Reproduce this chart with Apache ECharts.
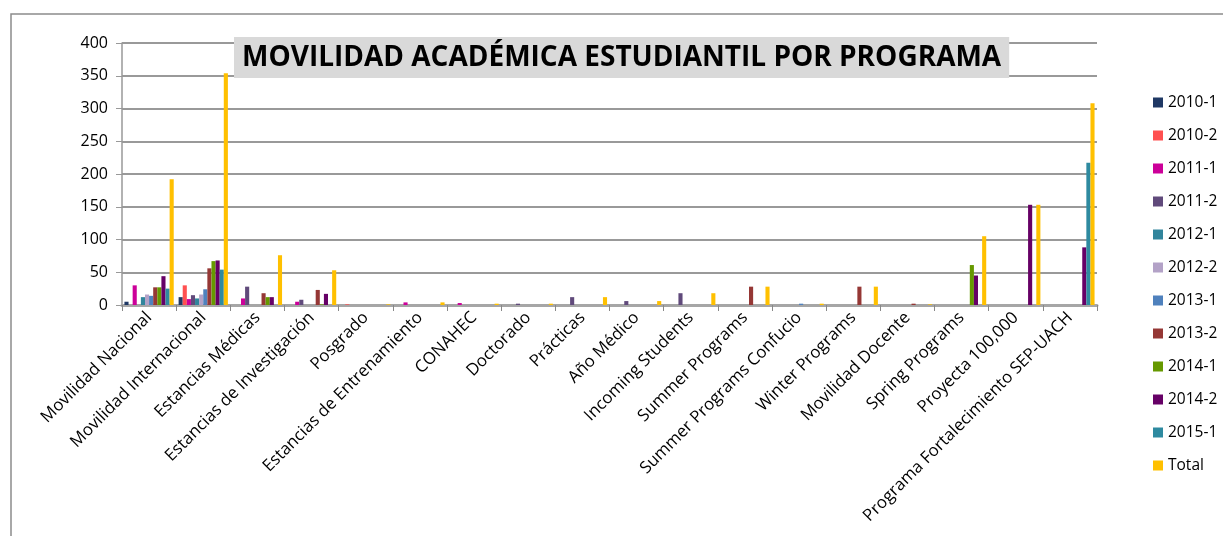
<!DOCTYPE html>
<html>
<head>
<meta charset="utf-8">
<script src="https://cdn.jsdelivr.net/npm/echarts@6/dist/echarts.min.js"></script>
<style>
  html, body { margin: 0; padding: 0; background: #fff; }
  #chart { width: 1223px; height: 536px; }
</style>
</head>
<body>
<div id="chart"></div>
<script>
// categorias (programas)
var programas = ['Movilidad Nacional', 'Movilidad Internacional', 'Estancias Médicas',
  'Estancias de Investigación', 'Posgrado', 'Estancias de Entrenamiento', 'CONAHEC',
  'Doctorado', 'Prácticas', 'Año Médico', 'Incoming Students', 'Summer Programs',
  'Summer Programs Confucio', 'Winter Programs', 'Movilidad Docente', 'Spring Programs',
  'Proyecta 100,000', 'Programa Fortalecimiento SEP-UACH'];

var periodos = ['2010-1', '2010-2', '2011-1', '2011-2', '2012-1', '2012-2',
  '2013-1', '2013-2', '2014-1', '2014-2', '2015-1', 'Total'];

var colores = ['#1F3864', '#FF5050', '#CC0099', '#604A7B', '#31859C', '#B3A2C7',
  '#4F81BD', '#953735', '#669900', '#660066', '#2E8AA0', '#FFC000'];

// valores por periodo (mismo orden que programas)
var p2010_1 = [5, 12, 0, 0, 0, 0, 0, 0, 0, 0, 0, 0, 0, 0, 0, 0, 0, 0];
var p2010_2 = [0, 30, 0, 0, 1, 0, 0, 0, 0, 0, 0, 0, 0, 0, 0, 0, 0, 0];
var p2011_1 = [30, 9, 10, 5, 0, 4, 3, 0, 0, 0, 0, 0, 0, 0, 0, 0, 0, 0];
var p2011_2 = [0, 15, 28, 8, 0, 0, 0, 2, 12, 6, 18, 0, 0, 0, 0, 0, 0, 0];
var p2012_1 = [12, 10, 0, 0, 0, 0, 0, 0, 0, 0, 0, 0, 0, 0, 0, 0, 0, 0];
var p2012_2 = [16, 16, 0, 0, 0, 0, 0, 0, 0, 0, 0, 0, 0, 0, 0, 0, 0, 0];
var p2013_1 = [14, 24, 0, 0, 0, 0, 0, 0, 0, 0, 0, 0, 2, 0, 0, 0, 0, 0];
var p2013_2 = [27, 56, 18, 23, 0, 0, 0, 0, 0, 0, 0, 28, 0, 28, 2, 0, 0, 0];
var p2014_1 = [27, 67, 12, 1, 0, 0, 0, 0, 0, 0, 0, 0, 0, 0, 0, 61, 0, 0];
var p2014_2 = [44, 68, 12, 17, 0, 0, 0, 0, 0, 0, 0, 0, 0, 0, 0, 45, 153, 88];
var p2015_1 = [25, 54, 0, 0, 0, 0, 0, 0, 0, 0, 0, 0, 0, 0, 0, 0, 0, 217];
var total   = [192, 354, 76, 53, 1, 4, 2, 2, 12, 6, 18, 28, 2, 28, 1, 105, 153, 308];

var valores = [p2010_1, p2010_2, p2011_1, p2011_2, p2012_1, p2012_2,
  p2013_1, p2013_2, p2014_1, p2014_2, p2015_1, total];

var fuente = 'Open Sans';

var series = periodos.map(function (nombre, i) {
  return {
    name: nombre,
    type: 'bar',
    barGap: '0%',
    barCategoryGap: '9%',
    itemStyle: { color: colores[i] },
    data: valores[i]
  };
});

var chart = echarts.init(document.getElementById('chart'));
chart.setOption({
  animation: false,
  textStyle: { fontFamily: fuente },
  title: {
    text: 'MOVILIDAD ACADÉMICA ESTUDIANTIL POR PROGRAMA',
    left: 234,
    top: 37,
    backgroundColor: '#D9D9D9',
    padding: [7, 8, 6, 8],
    textStyle: { fontFamily: fuente, fontWeight: 'bold', fontSize: 28, color: '#000' }
  },
  graphic: [{
    type: 'rect',
    shape: { x: 11, y: 14, width: 1240, height: 560 },
    style: { fill: null, stroke: '#8c8c8c', lineWidth: 1.5 },
    silent: true
  }],
  legend: {
    orient: 'vertical',
    left: 1148,
    top: 87,
    itemWidth: 10,
    itemHeight: 10,
    itemGap: 12,
    icon: 'rect',
    textStyle: { fontFamily: fuente, fontSize: 15.5, color: '#000', lineHeight: 21 },
    data: periodos
  },
  grid: { left: 122, right: 126, top: 43, bottom: 231, containLabel: false },
  xAxis: {
    type: 'category',
    data: programas,
    axisLine: { lineStyle: { color: '#a6a6a6', width: 3 } },
    axisTick: { show: true, length: 6, lineStyle: { color: '#888', width: 1 } },
    axisLabel: { rotate: 45, interval: 0, fontSize: 16.8, color: '#000', margin: 10 }
  },
  yAxis: {
    type: 'value',
    min: 0,
    max: 400,
    interval: 50,
    axisLine: { show: true, lineStyle: { color: '#999', width: 1.5 } },
    axisTick: { show: true, length: 6, inside: false, lineStyle: { color: '#999' } },
    axisLabel: { fontSize: 16, color: '#000', margin: 14 },
    splitLine: { lineStyle: { color: '#999', width: 2 } }
  },
  series: series
});
</script>
</body>
</html>
